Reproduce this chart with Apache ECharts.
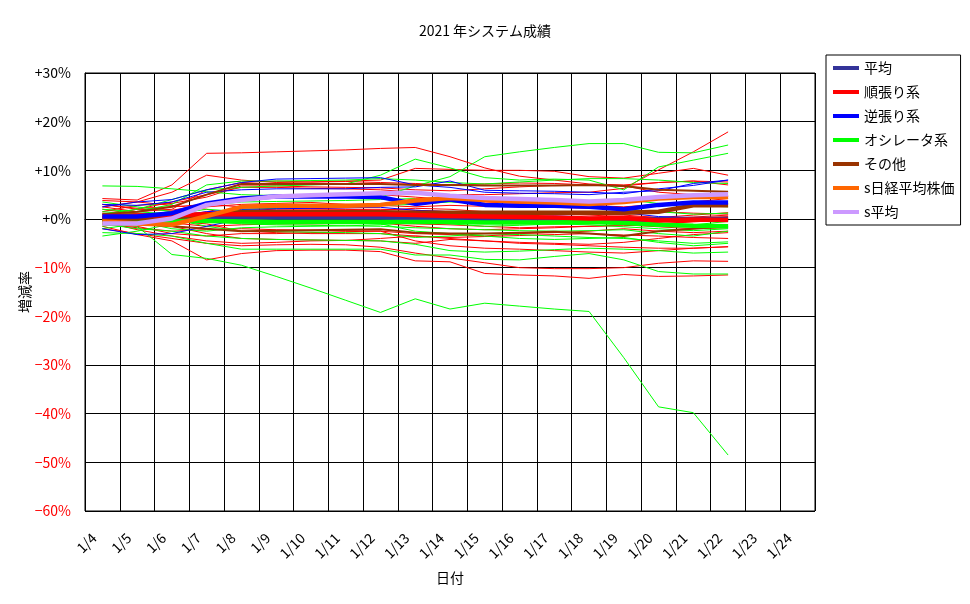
<!DOCTYPE html>
<html>
<head>
<meta charset="utf-8">
<script src="https://cdn.jsdelivr.net/npm/echarts@6/dist/echarts.min.js"></script>
<style>
html, body { margin: 0; padding: 0; background: #fff; }
#main { width: 970px; height: 604px; }
</style>
</head>
<body>
<div id="main"></div>
<script>
// 日付 (1/23, 1/24 はデータなし)
var dates = ['1/4','1/5','1/6','1/7','1/8','1/9','1/10','1/11','1/12','1/13','1/14',
             '1/15','1/16','1/17','1/18','1/19','1/20','1/21','1/22','1/23','1/24'];
var yTicks = [-60, -50, -40, -30, -20, -10, 0, 10, 20, 30];

// 集計線 (%)
var avgAll   = [0.0, 0.1, 0.1, 0.2, 0.3, 0.3, 0.3, 0.3, 0.3, 0.2, 0.2, 0.1, 0.1, 0.1, 0.0, 0.0, -0.1, 0.0, 0.0];
var avgJun   = [0.5, 0.7, 0.8, 1.0, 1.0, 1.0, 1.0, 1.0, 1.0, 0.8, 0.6, 0.5, 0.4, 0.3, 0.1, 0.2, -0.3, -0.1, -0.2];
var avgGyaku = [0.5, 0.5, 1.2, 3.2, 4.2, 4.6, 4.7, 4.6, 4.5, 3.1, 4.0, 2.9, 2.7, 2.7, 2.5, 2.0, 2.9, 3.4, 3.4];
var avgOsc   = [-0.2, -0.3, -0.3, -0.4, -0.5, -0.6, -0.6, -0.6, -0.6, -0.6, -0.6, -0.7, -0.7, -0.7, -0.6, -0.8, -1.2, -1.4, -1.5];
var avgEtc   = [0.0, 0.1, 0.3, 0.9, 1.4, 1.4, 1.4, 1.4, 1.4, 1.3, 1.3, 1.3, 1.3, 1.3, 1.3, 1.3, 1.5, 2.8, 2.8];
var nikkei   = [-0.5, -0.9, -1.2, 0.6, 2.5, 2.7, 2.7, 2.7, 2.9, 3.8, 4.3, 3.9, 3.6, 3.4, 3.1, 3.5, 4.2, 4.5, 4.5];
var sAvg     = [-0.9, -0.9, 0.1, 2.9, 3.9, 4.6, 4.9, 5.1, 5.3, 5.4, 4.8, 4.3, 4.1, 3.9, 3.6, 3.9, 4.5, 4.9, 5.1];

// 順張り系 個別
var jun01 = [4.2, 3.9, 7.0, 13.5, 13.6, 13.8, 14.0, 14.2, 14.5, 14.7, 12.8, 10.5, 8.8, 8.0, 7.2, 7.0, 7.5, 7.8, 7.0];
var jun02 = [3.0, 2.0, 3.5, 5.0, 6.5, 6.5, 6.3, 6.2, 6.0, 5.5, 5.0, 5.0, 5.2, 5.4, 5.5, 6.3, 10.1, 13.8, 17.9];
var jun03 = [3.8, 3.5, 5.5, 9.0, 8.0, 7.5, 7.6, 7.7, 7.5, 7.3, 7.0, 7.2, 7.4, 7.3, 7.0, 6.8, 7.5, 7.8, 7.6];
var jun04 = [2.5, 1.5, 2.0, 6.0, 7.5, 7.8, 7.6, 7.8, 8.0, 10.4, 10.2, 10.0, 10.0, 9.8, 8.7, 8.4, 9.4, 10.4, 9.0];
var jun05 = [1.5, 2.8, 3.2, 4.5, 6.8, 6.8, 6.6, 6.5, 6.4, 6.0, 5.8, 6.2, 6.6, 6.9, 7.0, 6.8, 5.5, 5.0, 4.6];
var jun06 = [1.0, 0.5, 1.5, 2.5, 3.0, 3.2, 3.4, 3.0, 2.8, 2.5, 2.8, 2.6, 2.5, 2.4, 2.2, 2.0, 1.5, 1.2, 1.0];
var jun07 = [0.5, 1.2, 1.0, 0.8, 1.8, 2.0, 2.0, 2.0, 2.0, 1.8, 1.5, 1.5, 1.3, 1.2, 1.0, 0.8, 0.3, 0.2, 0.5];
var jun08 = [-0.5, -1.0, -0.8, -1.5, -1.2, -1.0, -1.0, -0.9, -0.8, -1.0, -1.2, -1.5, -1.8, -1.6, -1.5, -1.4, -1.0, -0.5, -0.3];
var jun09 = [-1.0, -1.8, -2.5, -2.2, -2.0, -2.2, -2.3, -2.4, -2.5, -3.0, -3.2, -3.5, -3.0, -2.8, -2.5, -2.0, -2.5, -2.8, -2.5];
var jun10 = [0.2, -0.8, -1.5, -3.0, -4.0, -4.2, -4.3, -4.4, -4.5, -5.0, -4.2, -4.5, -4.8, -5.0, -5.2, -4.8, -4.0, -3.2, -2.8];
var jun11 = [-1.5, -3.2, -4.5, -8.4, -7.1, -6.5, -6.4, -6.4, -6.7, -8.6, -8.8, -11.2, -11.5, -11.7, -12.2, -11.4, -11.8, -11.7, -11.5];
var jun12 = [-2.0, -3.0, -4.0, -5.0, -5.5, -5.3, -5.2, -5.3, -5.8, -7.0, -8.0, -9.0, -10.0, -10.2, -10.2, -10.0, -9.1, -8.6, -8.7];
var jun13 = [-0.5, -2.2, -3.5, -4.5, -5.0, -4.8, -4.5, -4.4, -4.0, -3.5, -4.0, -4.5, -5.0, -5.2, -5.5, -5.8, -6.0, -6.0, -5.7];
var jun14 = [3.0, 2.2, 2.5, 3.0, 4.5, 4.8, 5.0, 5.0, 5.0, 4.5, 4.0, 3.5, 3.2, 3.0, 2.8, 2.5, 3.0, 3.5, 4.2];
var jun15 = [2.0, 1.0, 0.5, 1.5, 1.2, 1.0, 1.2, 1.5, 1.8, 2.2, 2.0, 1.5, 1.3, 1.0, 0.8, 0.5, 0.3, 0.8, 1.3];
var jun16 = [0.0, -0.5, -0.3, 0.3, 0.0, -0.3, -0.5, -0.6, -0.8, -1.5, -2.0, -2.2, -2.0, -1.8, -1.5, -1.2, -1.6, -2.0, -1.8];
var jun17 = [1.2, 0.8, -0.5, -1.0, -2.5, -2.8, -3.0, -3.0, -3.0, -3.5, -3.8, -3.6, -3.4, -3.2, -3.0, -3.3, -3.5, -3.8, -4.0];
var jun18 = [-1.2, -1.5, -3.0, -3.5, -3.0, -3.0, -2.8, -2.6, -2.5, -4.5, -5.5, -6.0, -6.2, -6.5, -6.8, -7.0, -6.5, -6.0, -5.7];
var jun19 = [0.8, 2.0, 1.8, 3.0, 2.5, 2.3, 2.2, 2.0, 1.8, 0.5, 0.0, -0.5, -0.8, -1.0, -0.7, -0.4, 0.0, 0.4, 0.8];
var jun20 = [2.5, 3.5, 2.8, 2.0, 0.5, 0.5, 0.6, 0.7, 0.8, 1.2, 1.5, 1.0, 0.6, 0.2, -0.2, -0.4, -1.0, -0.6, -0.2];

// 逆張り系 個別
var gyk01 = [2.5, 3.5, 4.0, 6.0, 7.5, 8.2, 8.3, 8.4, 8.5, 7.0, 6.5, 5.5, 5.3, 5.2, 5.0, 5.5, 5.8, 7.3, 8.0];
var gyk02 = [3.0, 2.8, 3.5, 5.5, 6.0, 6.2, 6.2, 6.2, 6.5, 6.6, 7.8, 5.9, 5.8, 5.7, 5.5, 5.2, 6.2, 6.9, 8.0];
var gyk03 = [-2.0, -3.2, -3.0, -1.5, 0.0, 0.2, 0.3, 0.3, 0.3, 0.0, -0.2, -0.3, -0.5, -0.5, -0.4, -0.3, -0.5, -0.2, -0.4];
var gyk04 = [0.5, -0.2, 0.5, 1.5, 2.0, 2.1, 2.2, 2.3, 2.4, 1.8, 1.5, 1.2, 1.0, 0.8, 1.0, 1.3, 0.5, 0.3, 0.2];

// オシレータ系 個別
var osc01 = [-0.5, -1.5, -7.3, -8.1, -9.5, -11.8, -14.2, -16.7, -19.2, -16.4, -18.5, -17.3, -17.9, -18.5, -19.0, -28.5, -38.6, -39.8, -48.5];
var osc02 = [6.8, 6.7, 6.2, 5.6, 5.0, 4.8, 4.6, 4.5, 4.5, 6.8, 8.7, 12.8, 13.8, 14.7, 15.5, 15.5, 13.7, 13.6, 15.2];
var osc03 = [1.0, 2.0, 4.0, 6.0, 6.5, 6.8, 7.0, 7.2, 9.0, 12.3, 10.5, 8.5, 8.0, 8.2, 8.0, 6.0, 10.7, 12.1, 13.5];
var osc04 = [0.5, 1.5, 3.0, 7.0, 7.8, 7.8, 7.9, 8.0, 8.3, 8.0, 7.5, 7.2, 7.6, 8.0, 8.3, 8.3, 8.0, 7.5, 7.3];
var osc05 = [-3.5, -2.5, -1.0, 0.5, 2.0, 2.2, 2.4, 2.6, 2.8, 3.0, 3.5, 3.2, 2.8, 2.6, 2.4, 2.0, 1.5, 1.0, 1.2];
var osc06 = [1.5, 1.0, 0.5, -0.5, -1.0, -1.2, -1.3, -1.4, -1.5, -1.8, -2.0, -2.2, -2.4, -2.5, -2.4, -2.2, -3.0, -3.5, -2.5];
var osc07 = [-2.8, -3.0, -3.5, -5.0, -6.2, -6.2, -6.2, -6.2, -6.2, -7.4, -7.4, -8.3, -8.4, -7.7, -7.1, -8.4, -10.8, -11.3, -11.3];
var osc08 = [-1.0, -2.0, -2.5, -3.5, -4.0, -4.2, -4.3, -4.4, -4.5, -5.2, -6.5, -6.8, -6.6, -6.3, -6.0, -6.2, -6.5, -7.0, -6.8];
var osc09 = [2.0, 1.5, 1.0, 2.0, 1.5, 1.2, 1.0, 0.9, 0.8, 0.0, -0.5, -0.3, 0.2, 0.5, 0.3, -0.2, -0.8, -1.2, -0.5];
var osc10 = [-2.0, -1.0, 0.0, -1.5, -2.5, -2.6, -2.7, -2.8, -3.0, -3.8, -3.5, -3.0, -3.2, -3.5, -3.8, -4.0, -4.5, -5.0, -4.7];
var osc11 = [0.0, 0.8, 1.5, 2.8, 3.5, 3.6, 3.7, 3.8, 4.0, 4.2, 4.0, 3.8, 3.6, 3.5, 3.8, 4.0, 3.2, 2.8, 2.5];
var osc12 = [-1.5, -0.5, -2.0, -2.5, -1.8, -1.6, -1.5, -1.4, -1.2, -0.5, -1.0, -1.5, -1.3, -1.0, -1.2, -1.6, -2.0, -2.4, -2.0];
var osc13 = [3.5, 2.5, 1.5, 0.5, -0.3, -0.5, -0.6, -0.8, -1.0, -2.5, -3.0, -3.5, -4.0, -4.2, -4.0, -3.8, -4.8, -5.5, -5.0];

// その他 個別
var etc01 = [1.0, 1.5, 2.5, 5.0, 7.2, 7.2, 7.2, 7.2, 7.2, 7.0, 7.0, 6.9, 6.9, 6.9, 7.0, 6.8, 6.0, 5.8, 5.6];
var etc02 = [-0.5, -1.0, -1.5, -2.0, -2.5, -2.4, -2.3, -2.2, -2.1, -2.8, -3.0, -3.0, -2.8, -2.6, -3.0, -3.5, -2.5, -2.0, -1.5];

var junList = [jun01, jun02, jun03, jun04, jun05, jun06, jun07, jun08, jun09, jun10,
               jun11, jun12, jun13, jun14, jun15, jun16, jun17, jun18, jun19, jun20];
var gykList = [gyk01, gyk02, gyk03, gyk04];
var oscList = [osc01, osc02, osc03, osc04, osc05, osc06, osc07, osc08, osc09, osc10, osc11, osc12, osc13];
var etcList = [etc01, etc02];

var FONT = '"Noto Sans CJK JP", "Noto Sans", sans-serif';

function thin(list, prefix, color, w)
{
    var out = [];
    for (var i = 0; i < list.length; i++) {
        out.push({
            name: prefix + (i + 1),
            type: 'line',
            symbol: 'none',
            silent: true,
            data: list[i],
            lineStyle: { color: color, width: w || 1 },
            itemStyle: { color: color }
        });
    }
    return out;
}

function thick(name, data, color)
{
    return {
        name: name,
        type: 'line',
        symbol: 'none',
        data: data,
        z: 3,
        lineStyle: { color: color, width: 4.5 },
        itemStyle: { color: color }
    };
}

var series = []
    .concat(thin(junList, 'jun', '#ff0000'))
    .concat(thin(oscList, 'osc', '#00ff00'))
    .concat(thin(gykList, 'gyk', '#0000ff'))
    .concat(thin(etcList, 'etc', '#993300', 2));

series.push(thick('平均', avgAll, '#333399'));
series.push(thick('オシレータ系', avgOsc, '#00ff00'));
series.push(thick('その他', avgEtc, '#993300'));
series.push(thick('順張り系', avgJun, '#ff0000'));
series.push(thick('逆張り系', avgGyaku, '#0000ff'));
series.push(thick('s日経平均株価', nikkei, '#ff6600'));
series.push(thick('s平均', sAvg, '#cc99ff'));

var myChart = echarts.init(document.getElementById('main'));
var option = {
    animation: false,
    backgroundColor: '#ffffff',
    textStyle: { fontFamily: FONT },
    title: {
        text: '2021 年システム成績',
        left: 'center',
        top: 19,
        textStyle: { fontFamily: FONT, fontSize: 14, fontWeight: 'normal', color: '#000' }
    },
    legend: {
        data: ['平均', '順張り系', '逆張り系', 'オシレータ系', 'その他', 's日経平均株価', 's平均'],
        orient: 'vertical',
        left: 826,
        top: 55,
        icon: 'rect',
        itemWidth: 26,
        itemHeight: 4,
        itemGap: 10,
        padding: [6, 6, 6, 7],
        borderColor: '#000',
        borderWidth: 1,
        backgroundColor: '#fff',
        textStyle: { fontFamily: FONT, fontSize: 14, color: '#000', lineHeight: 14 }
    },
    grid: {
        left: 85,
        right: 155,
        top: 73,
        bottom: 93,
        show: true,
        borderColor: '#000',
        borderWidth: 1,
        backgroundColor: '#fff'
    },
    xAxis: {
        type: 'category',
        data: dates,
        boundaryGap: true,
        name: '日付',
        nameLocation: 'middle',
        nameGap: 60,
        nameMoveOverlap: false,
        nameTextStyle: { fontFamily: FONT, fontSize: 14, color: '#000' },
        axisLine: { lineStyle: { color: '#000', width: 1 } },
        axisTick: { show: false },
        axisLabel: {
            interval: 0,
            rotate: 45,
            margin: 16,
            padding: [0, 12, 0, 0],
            color: '#000',
            fontFamily: FONT,
            fontSize: 14
        },
        splitLine: { show: true, interval: 0, lineStyle: { color: '#000', width: 1 } }
    },
    yAxis: {
        type: 'value',
        min: yTicks[0],
        max: yTicks[yTicks.length - 1],
        interval: 10,
        name: '増減率',
        nameLocation: 'middle',
        nameGap: 53,
        nameMoveOverlap: false,
        nameTextStyle: { fontFamily: FONT, fontSize: 14, color: '#000' },
        axisLine: { show: true, lineStyle: { color: '#000', width: 1 } },
        axisTick: { show: false },
        axisLabel: {
            margin: 14,
            fontFamily: FONT,
            fontSize: 14,
            formatter: function (v) {
                return v < 0 ? '\u2212' + Math.abs(v) + '%' : '+' + v + '%';
            },
            color: function (v) {
                return Number(v) < 0 ? '#ff0000' : '#000000';
            }
        },
        splitLine: { show: true, lineStyle: { color: '#000', width: 1 } }
    },
    series: series
};
myChart.setOption(option);
</script>
</body>
</html>
